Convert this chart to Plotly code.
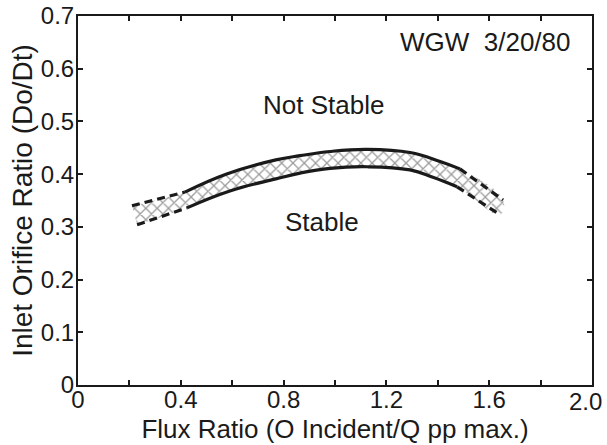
import plotly.graph_objects as go

# Boundary band
upper_flux = [0.21, 0.416, 0.576, 0.77, 0.864, 0.981, 1.125, 1.292, 1.409, 1.486, 1.654]
upper_ratio = [0.340, 0.366, 0.400, 0.427, 0.435, 0.443, 0.447, 0.441, 0.424, 0.410, 0.351]
lower_flux = [0.23, 0.424, 0.591, 0.77, 0.864, 0.981, 1.125, 1.292, 1.381, 1.475, 1.642]
lower_ratio = [0.304, 0.336, 0.368, 0.391, 0.402, 0.411, 0.414, 0.408, 0.394, 0.376, 0.323]

x_tickvals = [0, 0.2, 0.4, 0.6, 0.8, 1.0, 1.2, 1.4, 1.6, 1.8, 2.0]
x_ticktext = ["0", "", "0.4", "", "0.8", "", "1.2", "", "1.6", "", ""]
x_last_label = "2.0"
y_tickvals = [0, 0.1, 0.2, 0.3, 0.4, 0.5, 0.6, 0.7]
y_ticktext = ["0", "0.1", "0.2", "0.3", "0.4", "0.5", "0.6", "0.7"]

FONT = "Liberation Sans, Arial, sans-serif"
INK = "#1a1a1a"
SMOOTH = 1.2

fig = go.Figure()

# hatched band
band_x = upper_flux + lower_flux[::-1]
band_y = upper_ratio + lower_ratio[::-1]
fig.add_trace(go.Scatter(
    x=band_x, y=band_y, mode="lines", fill="toself",
    line=dict(width=0, color="rgba(0,0,0,0)", shape="spline", smoothing=SMOOTH),
    fillcolor="white",
    fillpattern=dict(shape="x", fgcolor="#3a3a3a", bgcolor="white", size=8, solidity=0.3),
    hoverinfo="skip", showlegend=False))

def add_curve(xs, ys):
    n = len(xs)
    segs = [(0, 2, "8px,5px"), (1, n - 1, "solid"), (n - 2, n, "8px,5px")]
    for a, b, dash in segs:
        fig.add_trace(go.Scatter(
            x=xs[a:b], y=ys[a:b], mode="lines",
            line=dict(color=INK, width=3.2, dash=dash, shape="spline", smoothing=SMOOTH),
            hoverinfo="skip", showlegend=False))

add_curve(upper_flux, upper_ratio)
add_curve(lower_flux, lower_ratio)

ann_font = dict(family=FONT, size=26, color=INK)
fig.add_annotation(x=0.957, y=0.531, text="Not Stable", showarrow=False, font=ann_font)
fig.add_annotation(x=0.95, y=0.309, text="Stable", showarrow=False, font=ann_font)
fig.add_annotation(x=1.584, y=0.651, text="WGW  3/20/80", showarrow=False, font=ann_font)
# last x tick label, nudged inside the page like in the original
fig.add_annotation(x=x_tickvals[-1], xref="x", y=0, yref="paper", text=x_last_label,
                   showarrow=False, xanchor="right", yanchor="top", xshift=12, yshift=-1,
                   font=dict(family=FONT, size=24, color=INK))

axis_common = dict(
    showline=True, linecolor=INK, linewidth=2, mirror="allticks",
    ticks="inside", ticklen=5, tickwidth=1.5, tickcolor=INK,
    showgrid=False, zeroline=False, automargin=False,
    tickfont=dict(family=FONT, size=24, color=INK),
)

fig.update_layout(
    width=607, height=445,
    margin=dict(l=78, r=15, t=16, b=60),
    paper_bgcolor="white", plot_bgcolor="white",
    xaxis=dict(range=[0, 2.0], tickvals=x_tickvals, ticktext=x_ticktext,
               ticklabelstandoff=-8,
               title=dict(text="Flux Ratio (O Incident/Q pp max.)",
                          font=dict(family=FONT, size=26, color=INK), standoff=8),
               **axis_common),
    yaxis=dict(range=[0, 0.7], tickvals=y_tickvals, ticktext=y_ticktext,
               ticklabelstandoff=-3,
               title=dict(text="Inlet Orifice Ratio (Do/Dt)",
                          font=dict(family=FONT, size=28, color=INK), standoff=0),
               **axis_common),
)

fig.write_html("out.html")
